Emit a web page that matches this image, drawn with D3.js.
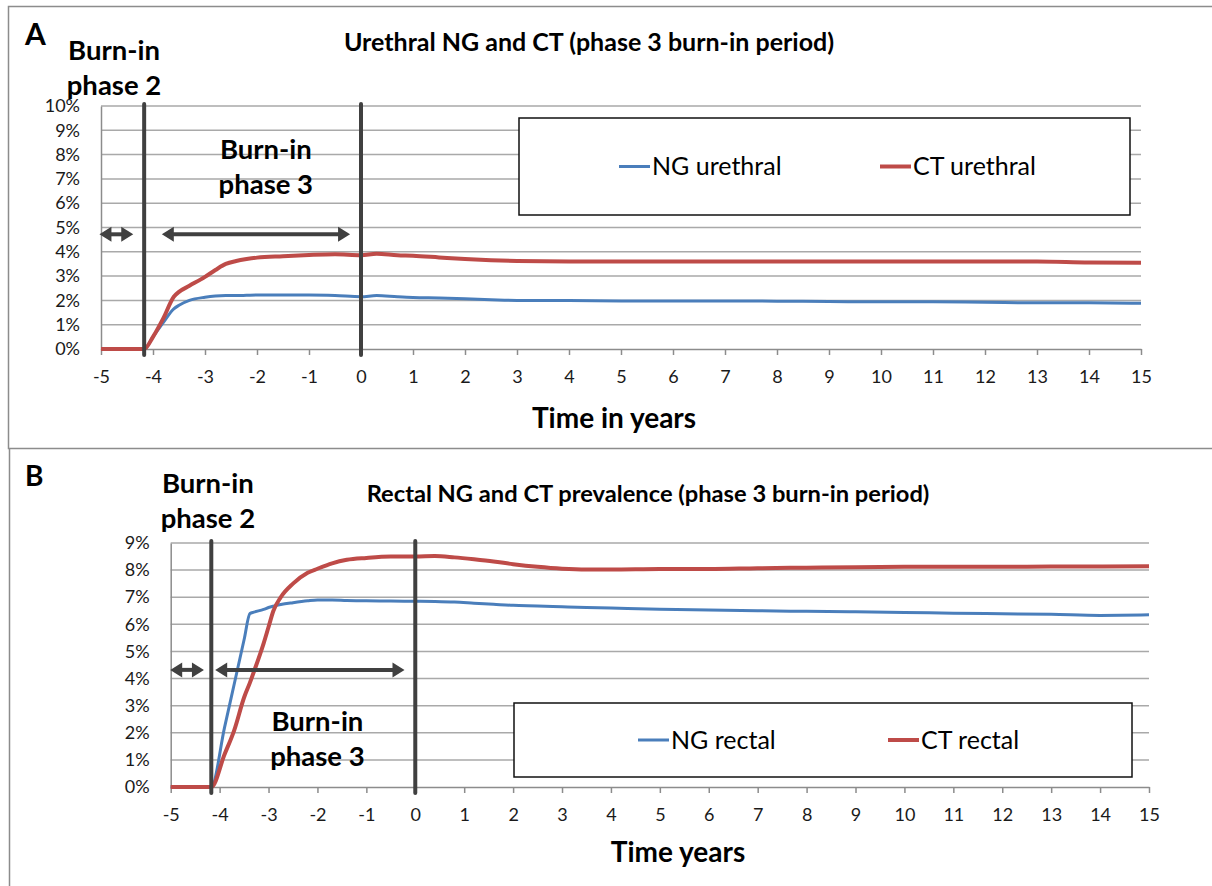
<!DOCTYPE html>
<html>
<head>
<meta charset="utf-8">
<script src="https://cdn.jsdelivr.net/npm/d3@7"></script>
<style>
  body { margin: 0; background: #fff; }
  svg { display: block; font-family: Lato, "Open Sans", sans-serif; }
</style>
</head>
<body>
<svg id="chart" width="1212" height="886"></svg>
<script>
// ---- Urethral prevalence (%) over time (years) ----
const timeUrethral = [-5, -4.17, -4.0, -3.8, -3.6, -3.5, -3.3, -3.0, -2.8, -2.6, -2.4, -2.2, -2.0, -1.5, -1.0, -0.5,
  0, 0.3, 0.7, 1, 1.5, 2, 2.5, 3, 4, 5, 6, 7, 8, 9, 10, 11, 12, 13, 14, 15];
const ngUrethral = [0, 0, 0.5, 1.1, 1.65, 1.8, 2.0, 2.13, 2.18, 2.2, 2.2, 2.21, 2.22, 2.22, 2.22, 2.2,
  2.15, 2.2, 2.15, 2.12, 2.1, 2.07, 2.03, 2.0, 2.0, 1.98, 1.98, 1.98, 1.97, 1.95, 1.94, 1.94, 1.92, 1.9, 1.9, 1.88];
const ctUrethral = [0, 0, 0.5, 1.27, 2.15, 2.35, 2.6, 2.97, 3.25, 3.5, 3.62, 3.7, 3.76, 3.82, 3.87, 3.9,
  3.86, 3.92, 3.86, 3.84, 3.77, 3.7, 3.65, 3.62, 3.6, 3.6, 3.6, 3.6, 3.6, 3.6, 3.6, 3.6, 3.6, 3.6, 3.56, 3.55];

// ---- Rectal prevalence (%) over time (years) ----
const timeRectal = [-5, -4.17, -3.9, -3.7, -3.5, -3.38, -3.3, -3.1, -3.0, -2.9, -2.75, -2.5, -2.2, -2.0, -1.7, -1.4,
  -1.0, -0.5, 0, 0.4, 0.8, 1.2, 1.6, 2, 2.5, 3, 3.5, 4, 5, 6, 7, 8, 9, 10, 11, 12, 13, 14, 15];
const ngRectal = [0, 0, 2.19, 3.81, 5.43, 6.4, 6.45, 6.55, 6.62, 6.67, 6.73, 6.8, 6.87, 6.9, 6.9, 6.88,
  6.87, 6.86, 6.85, 6.84, 6.82, 6.78, 6.74, 6.7, 6.68, 6.65, 6.62, 6.6, 6.56, 6.53, 6.5, 6.48, 6.46, 6.44, 6.41, 6.39, 6.37, 6.33, 6.35];
const ctRectal = [0, 0, 1.2, 2.1, 3.3, 3.85, 4.25, 5.3, 5.9, 6.5, 7.0, 7.5, 7.9, 8.05, 8.25, 8.38,
  8.45, 8.5, 8.5, 8.52, 8.47, 8.4, 8.32, 8.22, 8.12, 8.05, 8.02, 8.02, 8.04, 8.04, 8.07, 8.09, 8.11, 8.12, 8.12, 8.12, 8.13, 8.13, 8.14];

// ---- Axis ticks ----
const xTicks = [-5, -4, -3, -2, -1, 0, 1, 2, 3, 4, 5, 6, 7, 8, 9, 10, 11, 12, 13, 14, 15];
const yTicksUrethral = [0, 1, 2, 3, 4, 5, 6, 7, 8, 9, 10];
const yTicksRectal = [0, 1, 2, 3, 4, 5, 6, 7, 8, 9];

// ---- Burn-in phase boundaries (years) ----
const phase3Start = -4.17;
const phase3End = 0;

const BLUE = "#4a7ebb";
const RED = "#be4b48";
const DARK = "#404040";

const svg = d3.select("#chart");

// panel frames
svg.append("path")
  .attr("d", "M1214,6.5 H8.5 V448.5 H1214")
  .attr("fill", "none").attr("stroke", "#8c8c8c").attr("stroke-width", 1.5);
svg.append("path")
  .attr("d", "M9.5,448.5 V890")
  .attr("fill", "none").attr("stroke", "#8c8c8c").attr("stroke-width", 1.5);

function arrow(g, x1, x2, yy) {
  const head = 12, half = 7.5;
  g.append("line")
    .attr("x1", x1 + head - 2).attr("x2", x2 - head + 2)
    .attr("y1", yy).attr("y2", yy)
    .attr("stroke", DARK).attr("stroke-width", 4);
  g.append("path")
    .attr("d", `M${x1},${yy} L${x1 + head},${yy - half} L${x1 + head},${yy + half} Z`)
    .attr("fill", DARK);
  g.append("path")
    .attr("d", `M${x2},${yy} L${x2 - head},${yy - half} L${x2 - head},${yy + half} Z`)
    .attr("fill", DARK);
}

function twoLineLabel(g, cx, baseline, lines, size) {
  const t = g.append("text")
    .attr("text-anchor", "middle")
    .attr("font-weight", 700)
    .attr("font-size", size)
    .attr("fill", "#000");
  lines.forEach((s, i) => {
    t.append("tspan").attr("x", cx).attr("y", baseline + i * 35).text(s);
  });
}

function drawPanel(p) {
  const x = d3.scaleLinear().domain([-5, 15]).range([p.left, p.right]);
  const y = d3.scaleLinear().domain([0, p.yMax]).range([p.bottom, p.top]);
  const g = svg.append("g");

  // horizontal gridlines
  g.append("g").selectAll("line").data(p.yTicks.slice(1)).join("line")
    .attr("x1", p.left).attr("x2", p.right)
    .attr("y1", d => y(d)).attr("y2", d => y(d))
    .attr("stroke", "#a9a9a9").attr("stroke-width", 1.5);

  // y axis
  const ya = g.append("g").attr("transform", `translate(${p.left},0)`)
    .call(d3.axisLeft(y).tickValues(p.yTicks).tickFormat(d => d + "%").tickSize(0).tickSizeOuter(0).tickPadding(21));
  ya.select(".domain").attr("stroke", "#8c8c8c").attr("stroke-width", 1.5);
  ya.selectAll("text").attr("font-size", 18).attr("fill", "#1a1a1a").attr("font-family", "Lato");

  // x axis
  const xa = g.append("g").attr("transform", `translate(0,${p.bottom})`)
    .call(d3.axisBottom(x).tickValues(xTicks).tickFormat(d => String(d)).tickSize(6).tickSizeOuter(0).tickPadding(p.xPad));
  xa.select(".domain").attr("stroke", "#8c8c8c").attr("stroke-width", 1.5);
  xa.selectAll(".tick line").attr("stroke", "#8c8c8c").attr("stroke-width", 1.5);
  xa.selectAll("text").attr("font-size", 18).attr("fill", "#1a1a1a").attr("font-family", "Lato");

  // series
  const line = d3.line().x(d => x(d[0])).y(d => y(d[1])).curve(d3.curveMonotoneX);
  const ng = p.time.map((t, i) => [t, p.ng[i]]);
  const ct = p.time.map((t, i) => [t, p.ct[i]]);
  g.append("path").datum(ng).attr("d", line)
    .attr("fill", "none").attr("stroke", BLUE).attr("stroke-width", 3).attr("stroke-linejoin", "round");
  g.append("path").datum(ct).attr("d", line)
    .attr("fill", "none").attr("stroke", RED).attr("stroke-width", 4).attr("stroke-linejoin", "round");

  // burn-in phase boundaries
  g.selectAll("line.phase").data([phase3Start, phase3End]).join("line")
    .attr("class", "phase")
    .attr("x1", d => x(d)).attr("x2", d => x(d))
    .attr("y1", p.top - 2).attr("y2", p.bottom + 6)
    .attr("stroke", DARK).attr("stroke-width", 4).attr("stroke-linecap", "round");

  // phase duration arrows
  arrow(g, x(p.arrowShort[0]), x(p.arrowShort[1]), y(p.arrowY));
  arrow(g, x(p.arrowLong[0]), x(p.arrowLong[1]), y(p.arrowY));

  // legend
  const L = p.legend;
  g.append("rect").attr("x", L.x).attr("y", L.y).attr("width", L.w).attr("height", L.h)
    .attr("fill", "#fff").attr("stroke", "#111").attr("stroke-width", 1.5);
  const cy = L.y + L.h / 2;
  L.items.forEach(it => {
    g.append("line").attr("x1", it.x).attr("x2", it.x + 31).attr("y1", cy).attr("y2", cy)
      .attr("stroke", it.color).attr("stroke-width", it.color === RED ? 4 : 3);
    g.append("text").attr("x", it.x + 33).attr("y", cy).attr("dy", "0.35em")
      .attr("font-size", 25).attr("fill", "#000").text(it.label);
  });

  // panel letter, title, axis title
  g.append("text").attr("x", p.letterX).attr("y", p.letterY).attr("font-size", p.letterSize)
    .attr("font-weight", 700).attr("fill", "#000").text(p.letter);
  g.append("text").attr("x", p.titleX).attr("y", p.titleY).attr("text-anchor", "middle")
    .attr("font-size", p.titleSize).attr("font-weight", 700).attr("fill", "#000").text(p.title);
  g.append("text").attr("x", p.xTitleX).attr("y", p.xTitleY).attr("text-anchor", "middle")
    .attr("font-size", 28).attr("font-weight", 700).attr("fill", "#000").text(p.xTitle);

  // burn-in phase labels
  twoLineLabel(g, x(p.phase2Label[0]), y(p.phase2Label[1]), ["Burn-in", "phase 2"], 27.5);
  twoLineLabel(g, x(p.phase3Label[0]), y(p.phase3Label[1]), ["Burn-in", "phase 3"], 27.5);
}

drawPanel({
  left: 101, right: 1141, top: 106, bottom: 349, yMax: 10,
  yTicks: yTicksUrethral, xPad: 15.5,
  time: timeUrethral, ng: ngUrethral, ct: ctUrethral,
  arrowShort: [-5.03, -4.38], arrowLong: [-3.83, -0.21], arrowY: 4.72,
  legend: { x: 519, y: 118, w: 611, h: 97,
    items: [{ x: 619, color: BLUE, label: "NG urethral" }, { x: 880, color: RED, label: "CT urethral" }] },
  letter: "A", letterX: 25, letterY: 45, letterSize: 30,
  title: "Urethral NG and CT (phase 3 burn-in period)", titleX: 589, titleY: 51, titleSize: 25,
  xTitle: "Time in years", xTitleX: 614, xTitleY: 428,
  phase2Label: [-4.75, 11.9], phase3Label: [-1.83, 7.8]
});

drawPanel({
  left: 170.7, right: 1149, top: 543, bottom: 787, yMax: 9,
  yTicks: yTicksRectal, xPad: 15,
  time: timeRectal, ng: ngRectal, ct: ctRectal,
  arrowShort: [-5.01, -4.32], arrowLong: [-4.09, -0.22], arrowY: 4.32,
  legend: { x: 514, y: 703, w: 618, h: 74,
    items: [{ x: 638, color: BLUE, label: "NG rectal" }, { x: 888, color: RED, label: "CT rectal" }] },
  letter: "B", letterX: 25, letterY: 486, letterSize: 28,
  title: "Rectal NG and CT prevalence (phase 3 burn-in period)", titleX: 648, titleY: 502, titleSize: 23.7,
  xTitle: "Time years", xTitleX: 678, xTitleY: 862,
  phase2Label: [-4.24, 10.84], phase3Label: [-2.0, 2.07]
});
</script>
</body>
</html>
